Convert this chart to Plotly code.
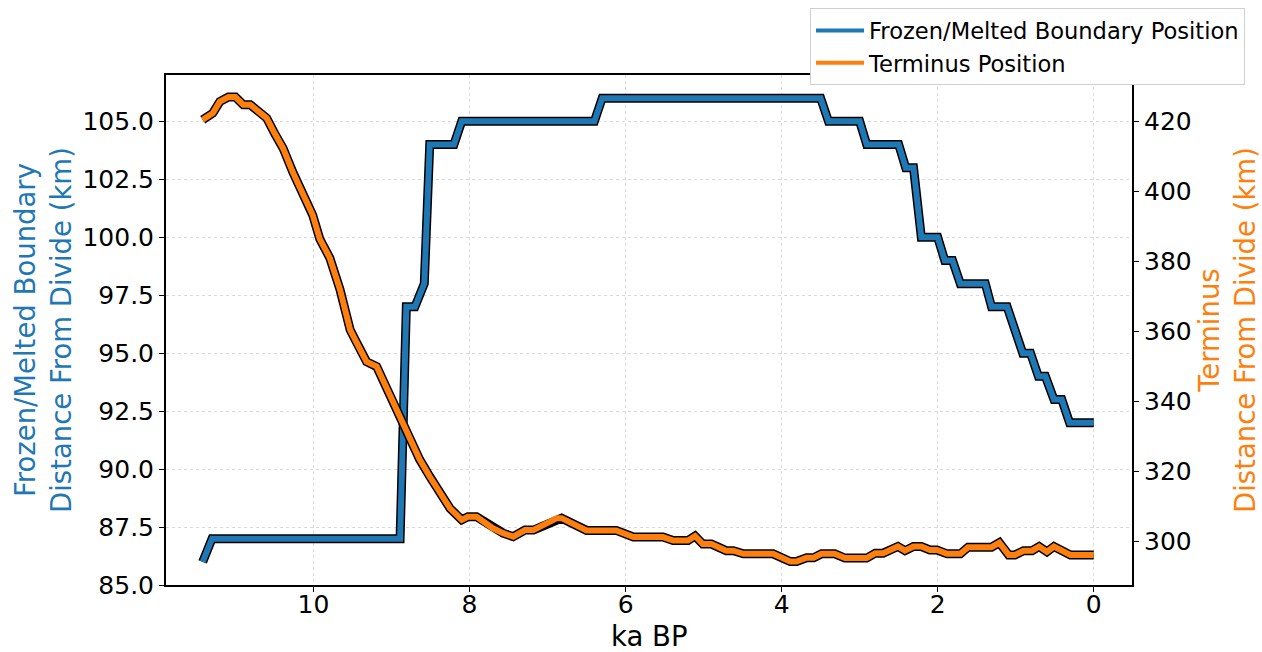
import plotly.graph_objects as go

# Frozen/Melted boundary position (ka BP, km)
fm_ka = [11.42, 11.30, 8.89, 8.81, 8.70, 8.58, 8.51, 8.20, 8.10, 6.40, 6.30, 3.50, 3.40,
         3.00, 2.91, 2.50, 2.41, 2.31, 2.21, 2.00, 1.91, 1.81, 1.71, 1.39, 1.31, 1.11,
         0.91, 0.81, 0.71, 0.62, 0.51, 0.41, 0.31, 0.00]
fm_km = [86, 87, 87, 97, 97, 98, 104, 104, 105, 105, 106, 106, 105,
         105, 104, 104, 103, 103, 100, 100, 99, 99, 98, 98, 97, 97,
         95, 95, 94, 94, 93, 93, 92, 92]

# Terminus position (ka BP, km)
term_ka = [11.42, 11.29, 11.20, 11.09, 11.00, 10.90, 10.81, 10.73, 10.60, 10.50, 10.39,
           10.26, 10.13, 10.09, 10.01, 9.92, 9.79, 9.66, 9.53, 9.45, 9.32, 9.19, 9.06,
           8.89, 8.77, 8.64, 8.51, 8.38, 8.25, 8.10, 8.02, 7.91, 7.70, 7.57, 7.44, 7.29,
           7.18, 6.88, 6.82, 6.50, 6.12, 5.90, 5.52, 5.39, 5.20, 5.11, 5.01, 4.90, 4.71,
           4.62, 4.49, 4.11, 3.89, 3.81, 3.68, 3.59, 3.49, 3.32, 3.19, 2.91, 2.80, 2.70,
           2.51, 2.42, 2.31, 2.21, 2.10, 2.01, 1.88, 1.71, 1.61, 1.31, 1.21, 1.09, 1.01,
           0.90, 0.79, 0.70, 0.60, 0.51, 0.30, 0.00]
term_km = [420.5, 422.4, 425.7, 427.0, 427.0, 424.8, 424.8, 423.5, 421.0, 416.7, 412.4,
           405.3, 398.5, 396.5, 393.3, 386.5, 381.0, 372.0, 360.5, 357.0, 351.4, 350.0, 343.5,
           335.5, 329.5, 323.5, 318.6, 313.8, 309.5, 306.2, 307.1, 307.1, 303.8, 302.4, 301.4, 303.3,
           303.3, 306.7, 306.7, 303.2, 303.2, 301.3, 301.3, 300.3, 300.3, 301.6, 299.3, 299.3, 297.4,
           297.4, 296.5, 296.5, 294.3, 294.3, 295.4, 295.4, 296.5, 296.5, 295.3, 295.3, 296.7, 296.7,
           298.6, 297.4, 298.6, 298.6, 297.6, 297.6, 296.5, 296.5, 298.4, 298.4, 299.7, 296.2, 296.2,
           297.4, 297.4, 298.6, 297.1, 298.6, 296.2, 296.2]

BLUE = "#1f77b4"
ORANGE = "#ff7f0e"
FONT = "DejaVu Sans"
TICK = 25
TITLE = 27.5

fig = go.Figure()
fig.add_trace(go.Scatter(x=fm_ka, y=fm_km, mode="lines", line=dict(color="black", width=9),
                         showlegend=False, hoverinfo="skip", yaxis="y"))
fig.add_trace(go.Scatter(x=fm_ka, y=fm_km, mode="lines", line=dict(color=BLUE, width=6),
                         name="Frozen/Melted Boundary Position", showlegend=False, yaxis="y"))
fig.add_trace(go.Scatter(x=term_ka, y=term_km, mode="lines", line=dict(color="black", width=9),
                         showlegend=False, hoverinfo="skip", yaxis="y2"))
fig.add_trace(go.Scatter(x=term_ka, y=term_km, mode="lines", line=dict(color=ORANGE, width=6),
                         name="Terminus Position", showlegend=False, yaxis="y2"))
# legend entries (thinner line swatches as in the reference)
fig.add_trace(go.Scatter(x=[None], y=[None], mode="lines", line=dict(color=BLUE, width=4),
                         name="Frozen/Melted Boundary Position", yaxis="y"))
fig.add_trace(go.Scatter(x=[None], y=[None], mode="lines", line=dict(color=ORANGE, width=4),
                         name="Terminus Position", yaxis="y2"))

fig.update_layout(
    width=1262, height=652,
    margin=dict(l=166, r=130, t=75, b=67, autoexpand=False),
    paper_bgcolor="white", plot_bgcolor="white",
    font=dict(family=FONT, size=TICK, color="black"),
    xaxis=dict(
        range=[11.89, -0.49], tick0=0, dtick=2, ticks="outside", ticklen=5, tickwidth=1.2,
        tickcolor="black", showline=True, linecolor="black", linewidth=2, mirror=True,
        showgrid=True, gridcolor="#dadada", griddash="dot", gridwidth=1, zeroline=False,
        tickfont=dict(size=TICK), automargin=False, ticklabelstandoff=-9,
    ),
    yaxis=dict(
        range=[85, 107], tick0=85, dtick=2.5, tickformat=".1f", ticks="outside", ticklen=5,
        tickwidth=1.2, tickcolor="black", showline=True, linecolor="black", linewidth=2,
        showgrid=True, gridcolor="#dadada", griddash="dot", gridwidth=1, zeroline=False,
        tickfont=dict(size=TICK), automargin=False,
    ),
    yaxis2=dict(
        range=[287.6, 433.3], tick0=300, dtick=20, overlaying="y", side="right",
        ticks="outside", ticklen=5, tickwidth=1.2, tickcolor="black", showline=True,
        linecolor="black", linewidth=2, showgrid=False, zeroline=False,
        tickfont=dict(size=TICK), automargin=False,
    ),
    legend=dict(
        x=1.117, y=1.131, xanchor="right", yanchor="top",
        bgcolor="white", bordercolor="#d0d0d0", borderwidth=1,
        font=dict(size=22.6, family=FONT), tracegroupgap=0, itemwidth=48,
    ),
    annotations=[
        dict(text="ka BP", xref="paper", yref="paper", x=0.5, y=(585 - 636) / 510,
             xanchor="center", yanchor="middle", showarrow=False,
             font=dict(size=TITLE, color="black", family=FONT)),
        dict(text="Frozen/Melted Boundary<br>Distance From Divide (km)", xref="paper", yref="paper",
             x=(43 - 166) / 966, y=0.5, xanchor="center", yanchor="middle", textangle=-90,
             showarrow=False, font=dict(size=TITLE, color=BLUE, family=FONT)),
        dict(text="Terminus<br>Distance From Divide (km)", xref="paper", yref="paper",
             x=(1227 - 166) / 966, y=0.5, xanchor="center", yanchor="middle", textangle=-90,
             showarrow=False, font=dict(size=TITLE, color=ORANGE, family=FONT)),
    ],
)

fig.write_html("out.html")
